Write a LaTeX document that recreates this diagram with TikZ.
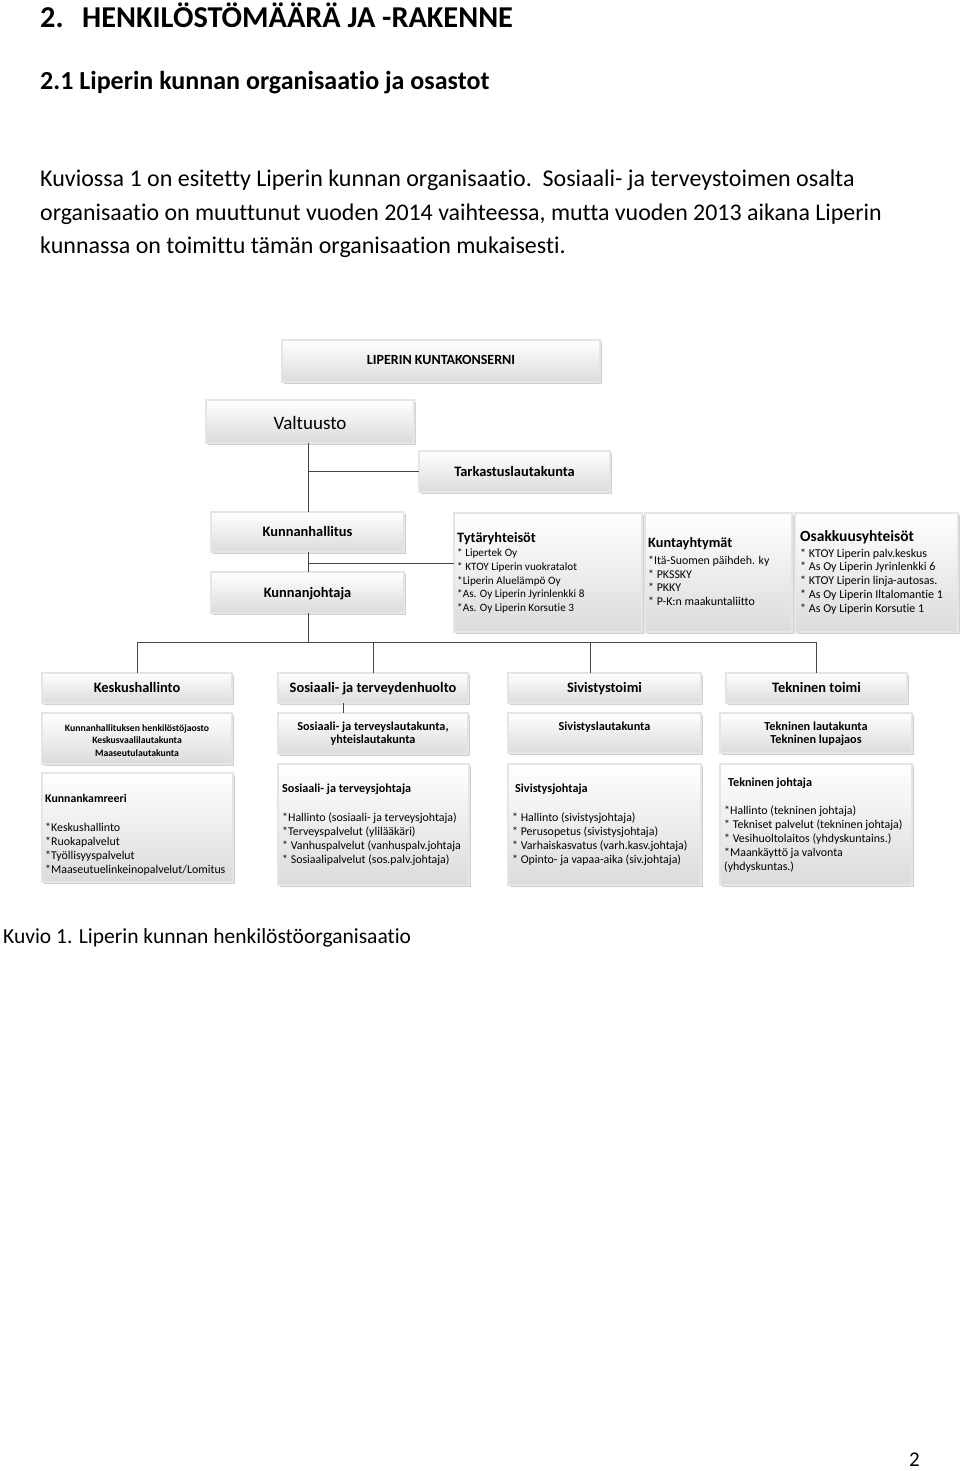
\documentclass[tikz,border=0pt]{standalone}
\usepackage{fontspec}
\setmainfont{Carlito}[Ligatures=NoCommon]
\usetikzlibrary{shadows,fit}
\newcommand\fsz[2]{\fontsize{#1}{#2}\selectfont}
\tikzset{
  x=1pt, y=-1pt,
  box/.style={draw=black!78, line width=0.85pt, double=white!90!black, double distance=1.2pt,
    top color=white, bottom color=black!14, inner sep=0pt, outer sep=0pt,
    drop shadow={shadow xshift=1.6pt, shadow yshift=-1.6pt, opacity=0.3, fill=black!60}},
  conn/.style={draw=black!72, line width=0.9pt},
  hdt/.style={anchor=base, inner sep=0pt, font=\bfseries\fsz{14.4}{16}},
  lst/.style={anchor=north west, align=left, inner sep=0pt},
  lhd/.style={anchor=base west, inner sep=0pt, font=\bfseries\fsz{14.3}{16}},
  shd/.style={anchor=base west, inner sep=0pt, font=\bfseries\fsz{12.2}{14}},
  ctr/.style={anchor=north, align=center, inner sep=0pt},
  ptxt/.style={anchor=base west, inner sep=0pt},
}
\begin{document}
\begin{tikzpicture}
\useasboundingbox (0,0) rectangle (960,1471);
\fill[white] (0,0) rectangle (960,1471);

% page text
\node[ptxt, font=\bfseries\fsz{30.3}{32}] (tnum) at (40,27.5) {2.};
\node[ptxt, font=\bfseries\fsz{30.3}{32}] (title) at (82,27.5) {HENKILÖSTÖMÄÄRÄ JA -RAKENNE};
\node[ptxt, font=\bfseries\fsz{26}{28}] (sub) at (40,90) {2.1 Liperin kunnan organisaatio ja osastot};
\node[ptxt, font=\fsz{24}{26}] (p1) at (40,187) {Kuviossa 1 on esitetty Liperin kunnan organisaatio.\ \ Sosiaali- ja terveystoimen osalta};
\node[ptxt, font=\fsz{23.9}{26}] (p2) at (40,220.5) {organisaatio on muuttunut vuoden 2014 vaihteessa, mutta vuoden 2013 aikana Liperin};
\node[ptxt, font=\fsz{24}{26}] (p3) at (40,254) {kunnassa on toimittu tämän organisaation mukaisesti.};
\node[ptxt, font=\fsz{21.5}{23}] (cap) at (3,943) {Kuvio 1. Liperin kunnan henkilöstöorganisaatio};
\node[ptxt, font=\fsz{21}{22}] (pg) at (909,1466.5) {2};

% connector points
\coordinate (v1) at (308,443);
\coordinate (v2) at (308,471.5);
\coordinate (v3) at (308,512);
\coordinate (k1) at (308,552);
\coordinate (k2) at (308,563);
\coordinate (k3) at (308,572);
\coordinate (j1) at (308,613);
\coordinate (j2) at (308,642);
\coordinate (h1) at (137,642);
\coordinate (h2) at (373,642);
\coordinate (h3) at (590,642);
\coordinate (h4) at (816,642);

% boxes
\node[box, fit={(282,340) (600,382)}] (konserni) {};
\node[box, fit={(206,400) (414,443)}] (valtuusto) {};
\node[box, fit={(419,451) (610,492)}] (tarkastus) {};
\node[box, fit={(211,512) (404,552)}] (khallitus) {};
\node[box, fit={(211,572) (404,613)}] (kjohtaja) {};
\node[box, fit={(454,513) (642,632)}] (tytar) {};
\node[box, fit={(645,513) (792,632)}] (kunta) {};
\node[box, fit={(795,513) (958,632)}] (osak) {};

\node[box, fit={(42,673) (232,703)}] (keskus) {};
\node[box, fit={(278,673) (468,703)}] (sote) {};
\node[box, fit={(508,673) (701,703)}] (sivis) {};
\node[box, fit={(726,673) (907,703)}] (tekn) {};

\node[box, fit={(42,713) (232,764)}] (keskus2) {};
\node[box, fit={(278,713) (468,754)}] (sote2) {};
\node[box, fit={(508,713) (701,753)}] (sivis2) {};
\node[box, fit={(720,713) (912,753)}] (tekn2) {};

\node[box, fit={(42,773) (233,882)}] (keskus3) {};
\node[box, fit={(278,764) (469,885)}] (sote3) {};
\node[box, fit={(508,764) (701,885)}] (sivis3) {};
\node[box, fit={(720,764) (912,885)}] (tekn3) {};

% single-line box texts
\node[hdt, font=\bfseries\fsz{14}{16}] (konsernit) at ([yshift=-3.8pt]konserni.center) {LIPERIN KUNTAKONSERNI};
\node[hdt, font=\fsz{19}{20}] (valtuustot) at ([yshift=-7.5pt]valtuusto.center) {Valtuusto};
\node[hdt] (tarkastust) at ([yshift=-4.8pt]tarkastus.center) {Tarkastuslautakunta};
\node[hdt] (khallitust) at ([yshift=-4.8pt]khallitus.center) {Kunnanhallitus};
\node[hdt] (kjohtajat) at ([yshift=-4.8pt]kjohtaja.center) {Kunnanjohtaja};
\node[hdt] (keskust) at ([yshift=-4.8pt]keskus.center) {Keskushallinto};
\node[hdt] (sotet) at ([yshift=-4.8pt]sote.center) {Sosiaali- ja terveydenhuolto};
\node[hdt] (sivist) at ([yshift=-4.8pt]sivis.center) {Sivistystoimi};
\node[hdt] (teknt) at ([yshift=-4.8pt]tekn.center) {Tekninen toimi};

% connector lines
\draw[conn] (valtuusto.south -| v1) -- (khallitus.north -| v3);
\draw[conn] (v2) -- (tarkastus.west);
\draw[conn] (khallitus.south -| k1) -- (kjohtaja.north -| k3);
\draw[conn] (k2) -- (k2 -| tytar.west);
\draw[conn] (kjohtaja.south -| j1) -- (j2);
\draw[conn] (h1) -- (h4);
\draw[conn] (h1) -- (keskus.north -| h1);
\draw[conn] (h2) -- (sote.north -| h2);
\draw[conn] (h3) -- (sivis.north -| h3);
\draw[conn] (h4) -- (tekn.north -| h4);
\draw[conn, line width=0.6pt] (sote.south -| 343,0) -- (sote2.north -| 343,0);

% texts in list boxes
\node[lhd] (tytarh) at (457,542.5) {Tytäryhteisöt};
\node[lst, font=\fsz{11.2}{13.9}] (tytarl) at (457,546.3) {\strut* Lipertek Oy\\* KTOY Liperin vuokratalot\\*Liperin Aluelämpö Oy\\*As. Oy Liperin Jyrinlenkki 8\\*As. Oy Liperin Korsutie 3};
\node[lhd] (kuntah) at (648,547.7) {Kuntayhtymät};
\node[lst, font=\fsz{11.9}{13.4}] (kuntal) at (648,555.4) {\strut*Itä-Suomen päihdeh. ky\\* PKSSKY\\* PKKY\\* P-K:n maakuntaliitto};
\node[lhd, font=\bfseries\fsz{15.5}{17}] (osakh) at (800,541) {Osakkuusyhteisöt};
\node[lst, font=\fsz{12}{13.8}] (osakl) at (800,547.3) {\strut* KTOY Liperin palv.keskus\\* As Oy Liperin Jyrinlenkki 6\\* KTOY Liperin linja-autosas.\\* As Oy Liperin Iltalomantie 1\\* As Oy Liperin Korsutie 1};

\node[ctr, font=\bfseries\fsz{9.7}{12.5}] (keskus2t) at (137,722.3) {\strut Kunnanhallituksen henkilöstöjaosto\\Keskusvaalilautakunta\\Maaseutulautakunta};
\node[ctr, font=\bfseries\fsz{12.2}{13.5}] (sote2t) at (373,720.5) {\strut Sosiaali- ja terveyslautakunta,\\yhteislautakunta};
\node[ctr, font=\bfseries\fsz{12.2}{13.5}] (sivis2t) at (604.5,720.5) {\strut Sivistyslautakunta};
\node[ctr, font=\bfseries\fsz{12.2}{13.5}] (tekn2t) at (816,720.5) {\strut Tekninen lautakunta\\Tekninen lupajaos};

\node[shd, font=\bfseries\fsz{11.8}{14}] (keskus3h) at (45,802) {Kunnankamreeri};
\node[lst, font=\fsz{11.9}{14}] (keskus3l) at (45,821.2) {\strut*Keskushallinto\\*Ruokapalvelut\\*Työllisyyspalvelut\\*Maaseutuelinkeinopalvelut/Lomitus};
\node[shd] (sote3h) at (282,792) {Sosiaali- ja terveysjohtaja};
\node[lst, font=\fsz{11.9}{14}] (sote3l) at (282,811.2) {\strut*Hallinto (sosiaali- ja terveysjohtaja)\\*Terveyspalvelut (ylilääkäri)\\* Vanhuspalvelut (vanhuspalv.johtaja\\* Sosiaalipalvelut (sos.palv.johtaja)};
\node[shd] (sivis3h) at (515,792) {Sivistysjohtaja};
\node[lst, font=\fsz{11.9}{14}] (sivis3l) at (512,811.2) {\strut* Hallinto (sivistysjohtaja)\\* Perusopetus (sivistysjohtaja)\\* Varhaiskasvatus (varh.kasv.johtaja)\\* Opinto- ja vapaa-aika (siv.johtaja)};
\node[shd] (tekn3h) at (728,786) {Tekninen johtaja};
\node[lst, font=\fsz{11.9}{14}] (tekn3l) at (724,804.2) {\strut*Hallinto (tekninen johtaja)\\* Tekniset palvelut (tekninen johtaja)\\* Vesihuoltolaitos (yhdyskuntains.)\\*Maankäyttö ja valvonta\\(yhdyskuntas.)};
\end{tikzpicture}
\end{document}
